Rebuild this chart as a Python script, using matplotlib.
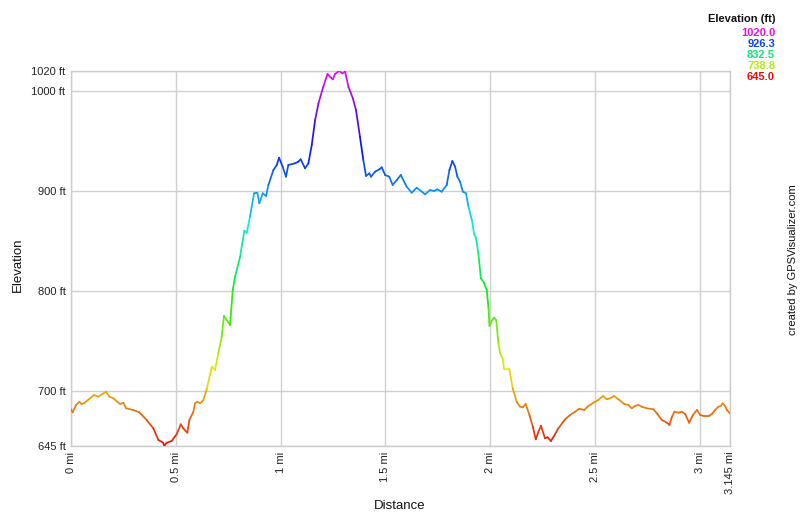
import numpy as np
import matplotlib
matplotlib.use("Agg")
import matplotlib.pyplot as plt
from matplotlib.collections import LineCollection
import colorsys

plt.rcParams['font.family'] = ['Liberation Sans', 'DejaVu Sans']

distance_mi = [
    0.000, 0.008, 0.024, 0.040, 0.050, 0.062, 0.110, 0.130, 0.167, 0.183, 0.202,
    0.234, 0.250, 0.263, 0.297, 0.326, 0.361, 0.393, 0.417, 0.440, 0.445, 0.457,
    0.480, 0.504, 0.524, 0.536, 0.555, 0.565, 0.584, 0.592, 0.603, 0.616, 0.632,
    0.648, 0.672, 0.687, 0.703, 0.719, 0.730, 0.743, 0.759, 0.772, 0.783, 0.807,
    0.820, 0.827, 0.839, 0.854, 0.874, 0.889, 0.899, 0.915, 0.931, 0.942, 0.966,
    0.982, 0.993, 1.010, 1.026, 1.037, 1.069, 1.085, 1.096, 1.117, 1.133, 1.149,
    1.165, 1.181, 1.204, 1.224, 1.236, 1.249, 1.260, 1.279, 1.295, 1.308, 1.324,
    1.345, 1.360, 1.379, 1.395, 1.408, 1.424, 1.432, 1.451, 1.472, 1.483, 1.499,
    1.519, 1.535, 1.555, 1.574, 1.602, 1.626, 1.650, 1.690, 1.714, 1.733, 1.748,
    1.769, 1.793, 1.806, 1.820, 1.833, 1.844, 1.857, 1.870, 1.885, 1.897, 1.913,
    1.924, 1.933, 1.944, 1.956, 1.971, 1.984, 1.992, 1.997, 2.008, 2.019, 2.029,
    2.040, 2.048, 2.060, 2.067, 2.092, 2.108, 2.127, 2.143, 2.156, 2.170, 2.188,
    2.204, 2.218, 2.231, 2.243, 2.262, 2.275, 2.290, 2.305, 2.326, 2.358, 2.382,
    2.406, 2.426, 2.449, 2.469, 2.493, 2.517, 2.538, 2.557, 2.573, 2.592, 2.613,
    2.640, 2.660, 2.676, 2.692, 2.708, 2.724, 2.748, 2.780, 2.796, 2.820, 2.844,
    2.856, 2.867, 2.880, 2.899, 2.915, 2.931, 2.950, 2.968, 2.987, 3.003, 3.019,
    3.043, 3.059, 3.074, 3.090, 3.101, 3.110, 3.122, 3.130, 3.145,
]
elevation_ft = [
    681.7, 678.7, 686.0, 689.3, 687.0, 687.7, 696.0, 694.3, 699.3, 694.3, 692.7,
    687.0, 688.3, 682.7, 681.0, 678.7, 671.0, 662.7, 651.0, 648.3, 645.0, 648.3,
    650.0, 656.7, 666.7, 662.7, 658.3, 671.0, 679.3, 687.7, 689.3, 687.7, 691.0,
    702.0, 724.3, 721.0, 737.7, 754.3, 775.0, 771.0, 766.0, 801.0, 814.3, 834.3,
    851.0, 860.3, 858.3, 874.3, 897.7, 898.3, 887.7, 897.7, 895.0, 906.0, 921.0,
    926.0, 933.3, 924.3, 914.3, 926.0, 927.7, 929.3, 931.7, 922.7, 927.7, 946.0,
    971.0, 987.7, 1004.3, 1017.0, 1014.3, 1011.7, 1017.0, 1020.0, 1017.7, 1019.3, 1004.3,
    992.7, 981.0, 954.3, 931.0, 915.0, 917.7, 914.3, 919.3, 921.7, 923.7, 916.0,
    914.3, 906.0, 911.0, 916.0, 904.3, 898.3, 903.3, 896.7, 901.0, 900.0, 901.7,
    899.3, 906.0, 921.0, 930.0, 924.3, 914.3, 909.3, 899.3, 897.7, 884.3, 871.0,
    857.0, 852.7, 837.7, 812.7, 808.3, 801.0, 784.3, 765.0, 770.3, 773.3, 771.0,
    747.7, 737.7, 732.7, 721.7, 721.7, 702.7, 689.3, 684.3, 683.7, 687.0, 676.0,
    664.3, 651.7, 659.3, 665.3, 652.7, 653.7, 650.0, 655.0, 662.7, 671.7, 676.0,
    679.3, 682.3, 681.0, 685.0, 688.3, 691.0, 695.0, 691.7, 692.7, 695.0, 691.7,
    687.0, 686.0, 682.7, 685.0, 686.0, 684.3, 682.7, 681.7, 677.7, 671.0, 668.3,
    666.0, 673.7, 679.3, 678.3, 679.3, 677.0, 668.3, 676.0, 681.0, 676.0, 675.0,
    675.0, 677.0, 681.0, 684.3, 685.0, 687.7, 685.0, 681.0, 677.7,
]

y_ticks = [645, 700, 800, 900, 1000, 1020]
y_tick_labels = ["645 ft", "700 ft", "800 ft", "900 ft", "1000 ft", "1020 ft"]
x_ticks = [0, 0.5, 1, 1.5, 2, 2.5, 3, 3.145]
x_tick_labels = ["0 mi", "0.5 mi", "1 mi", "1.5 mi", "2 mi", "2.5 mi", "3 mi", "3.145 mi"]
legend_values = [1020.0, 926.3, 832.5, 738.8, 645.0]

E_MIN, E_MAX = 645.0, 1020.0


def elev_color(e):
    frac = (e - E_MIN) / (E_MAX - E_MIN)
    frac = min(max(frac, 0.0), 1.0)
    h = frac * 300.0 / 360.0
    return colorsys.hsv_to_rgb(h, 0.95, 0.92)


fig = plt.figure(figsize=(8.0, 5.17), dpi=100)
ax = fig.add_axes([71 / 800, 71 / 517, (730 - 71) / 800, (446 - 71) / 517])

x = np.array(distance_mi)
y = np.array(elevation_ft)
pts = np.column_stack([x, y]).reshape(-1, 1, 2)
segs = np.concatenate([pts[:-1], pts[1:]], axis=1)
mids = (y[:-1] + y[1:]) / 2.0
cols = [elev_color(m) for m in mids]
lc = LineCollection(segs, colors=cols, linewidths=1.25, capstyle='round', joinstyle='round', zorder=3)
ax.add_collection(lc)

ax.set_xlim(0, 3.145)
ax.set_ylim(645, 1020)
ax.set_xticks(x_ticks)
ax.set_xticklabels(x_tick_labels, rotation=90, fontsize=8, color='#222222')
ax.set_yticks(y_ticks)
ax.set_yticklabels(y_tick_labels, fontsize=8, color='#222222')
ax.tick_params(length=0, pad=4)
ax.grid(True, color='#d0d0d0', linewidth=1.0, zorder=0)
for s in ax.spines.values():
    s.set_color('#cccccc')
    s.set_linewidth(1.0)

fig.text(18 / 800, 1 - 265 / 517, "Elevation", rotation=90, fontsize=9.5,
         ha='center', va='center', color='#111111')
fig.text(400 / 800, 1 - 506 / 517, "Distance", fontsize=9.5,
         ha='center', va='center', color='#111111')
fig.text(793 / 800, 1 - 260 / 517, "created by GPSVisualizer.com", rotation=90,
         fontsize=8, ha='center', va='center', color='#111111')

fig.text(775 / 800, 1 - 19 / 517, "Elevation (ft)", fontsize=8, fontweight='bold',
         ha='right', va='center', color='#111111')
for i, v in enumerate(legend_values):
    fig.text(775 / 800, 1 - (33 + 11 * i) / 517, f"{v:.1f}", fontsize=8,
             fontweight='bold', ha='right', va='center', color=elev_color(v))

fig.savefig("out.png", dpi=100)
